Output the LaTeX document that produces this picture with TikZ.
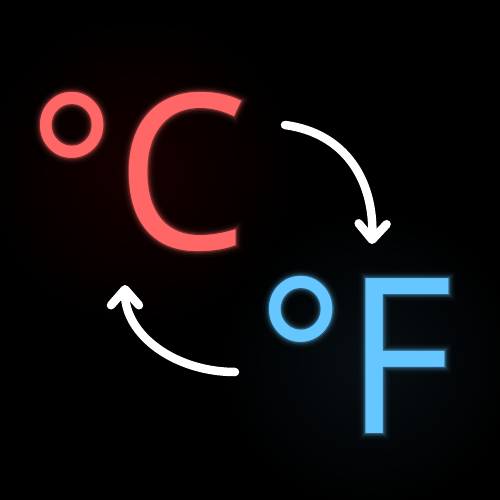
\documentclass[tikz,border=0pt]{standalone}
\usepackage{fontspec}
\usetikzlibrary{arrows.meta}
\newfontfamily\osans[FakeStretch=0.96]{Open Sans}
\newfontfamily\osglowA[FakeStretch=0.96,FakeBold=1.2]{Open Sans}
\newfontfamily\osglowB[FakeStretch=0.96,FakeBold=2.5]{Open Sans}
\newfontfamily\osglowC[FakeStretch=0.96,FakeBold=4]{Open Sans}
\newfontfamily\osglowD[FakeStretch=0.96,FakeBold=6]{Open Sans}
\definecolor{cred}{HTML}{FF6666}
\definecolor{cblue}{HTML}{66C6FF}
\tikzset{
  big/.style={inner sep=0pt, anchor=base west, font=\osans\fontsize{217}{217}\selectfont},
  glowA/.style={big, opacity=0.24, font=\osglowA\fontsize{217}{217}\selectfont},
  glowB/.style={big, opacity=0.13, font=\osglowB\fontsize{217}{217}\selectfont},
  glowC/.style={big, opacity=0.07, font=\osglowC\fontsize{217}{217}\selectfont},
  glowD/.style={big, opacity=0.04, font=\osglowD\fontsize{217}{217}\selectfont},
  arr/.style={white, line width=8.5pt, line cap=round,
    -{Straight Barb[length=16pt, width=28pt, round]}}
}
\begin{document}
\begin{tikzpicture}[x=1pt,y=-1pt]
\fill[black] (0,0) rectangle (500,500);
\useasboundingbox (0,0) rectangle (500,500);
% soft background glows
\shade[inner color=red!35!black, outer color=black, opacity=0.25] (140,170) circle (160);
\shade[inner color=cblue!30!black, outer color=black, opacity=0.25] (370,360) circle (150);
% celsius
\node[glowD, text=cred] (cg4) at (27,249) {°C};
\node[glowC, text=cred] (cg3) at (27,249) {°C};
\node[glowB, text=cred] (cg2) at (27,249) {°C};
\node[glowA, text=cred] (cg1) at (27,249) {°C};
\node[big, text=cred] (cel) at (27,249) {°C};
% fahrenheit
\node[glowD, text=cblue] (fg4) at (256,433) {°F};
\node[glowC, text=cblue] (fg3) at (256,433) {°F};
\node[glowB, text=cblue] (fg2) at (256,433) {°F};
\node[glowA, text=cblue] (fg1) at (256,433) {°F};
\node[big, text=cblue] (fah) at (256,433) {°F};
% arrows
\coordinate (a1s) at (285,125);
\coordinate (a1e) at (372,244);
\coordinate (a2s) at (235,372);
\coordinate (a2e) at (125,285);
\draw[arr] (a1s) .. controls (345,133) and (374,180) .. (a1e);
\draw[arr] (a2s) .. controls (175,372) and (125,335) .. (a2e);
\end{tikzpicture}
\end{document}
